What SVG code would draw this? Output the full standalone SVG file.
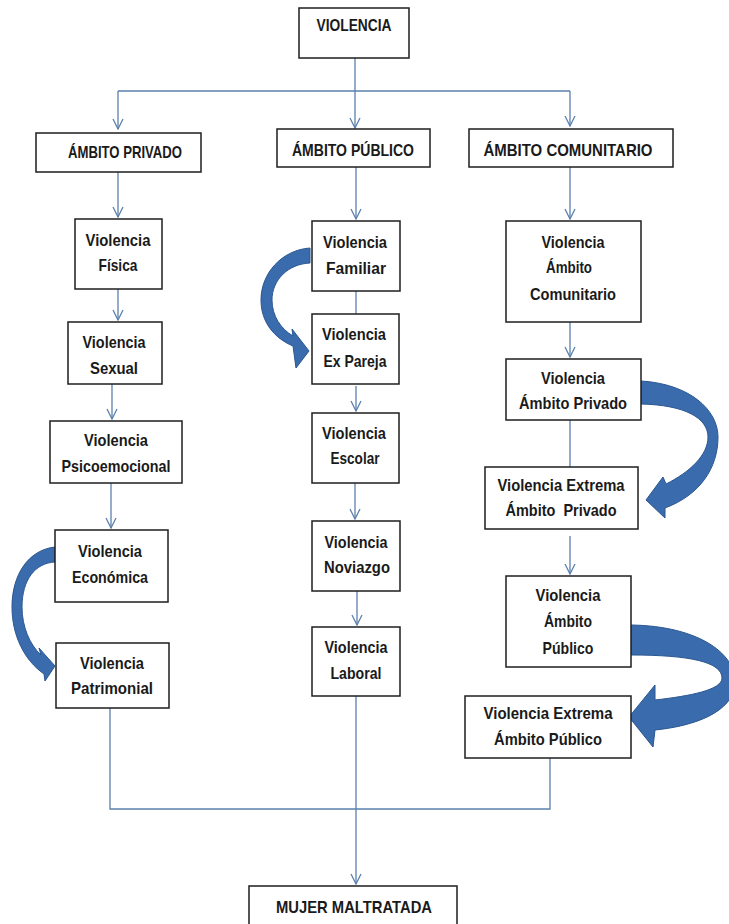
<svg xmlns="http://www.w3.org/2000/svg" width="729" height="924" viewBox="0 0 729 924">
<defs>
<style>
.box{fill:#ffffff;stroke:#1e1e1e;stroke-width:1.5}
.t{font-family:"Liberation Sans",Arial,sans-serif;font-weight:bold;font-size:17px;fill:#1a1a1a;text-anchor:middle}
.c{fill:none;stroke:#5b80ad;stroke-width:1.3}
.ca{fill:#3a6cad;stroke:#2b5690;stroke-width:1}
</style>
<marker id="arr" viewBox="0 0 12 12" refX="11" refY="6" markerWidth="12" markerHeight="12" markerUnits="userSpaceOnUse" orient="auto">
<path d="M1,1 L11,6 L1,11" fill="none" stroke="#5b80ad" stroke-width="1.3"/>
</marker>
</defs>
<rect width="729" height="924" fill="#ffffff"/>

<g id="connectors">
<path class="c" d="M355,58 V128" marker-end="url(#arr)"/>
<path class="c" d="M118,91 H570"/>
<path class="c" d="M118,91 V129" marker-end="url(#arr)"/>
<path class="c" d="M570,91 V126" marker-end="url(#arr)"/>
<path class="c" d="M118,172 V217" marker-end="url(#arr)"/>
<path class="c" d="M118,289 V320" marker-end="url(#arr)"/>
<path class="c" d="M112,384 V419" marker-end="url(#arr)"/>
<path class="c" d="M111,483 V528" marker-end="url(#arr)"/>
<path class="c" d="M110,708 V809 H550 V758"/>
<path class="c" d="M356,167 V219" marker-end="url(#arr)"/>
<path class="c" d="M356,291 V314"/>
<path class="c" d="M356,386 V411" marker-end="url(#arr)"/>
<path class="c" d="M355,483 V519" marker-end="url(#arr)"/>
<path class="c" d="M357,591 V625" marker-end="url(#arr)"/>
<path class="c" d="M356,696 V884" marker-end="url(#arr)"/>
<path class="c" d="M570,167 V219" marker-end="url(#arr)"/>
<path class="c" d="M570,322 V357" marker-end="url(#arr)"/>
<path class="c" d="M570,420 V467"/>
<path class="c" d="M570,536 V574" marker-end="url(#arr)"/>
</g>

<g id="curved-arrows">
<path class="ca" d="M310,248 C282,250 261,273 261,300 C261,322 274,338 293,346 L296,368 L309,351 L292,329 L293,336 C281,329 272,316 272,300 C272,280 288,264 310,263 Z"/>
<path class="ca" d="M641,381 C690,384 718,410 718,437 C718,468 700,495 665,508 L665,518 L646,500 L663,477 L666,484 C690,472 708,455 708,437 C708,418 685,405 641,404 Z"/>
<path class="ca" d="M55,547 C28,550 12,575 12,607 C12,635 24,660 44,674 L45,681 L55,666 L39,648 L41,655 C30,645 22,627 22,607 C22,580 35,563 55,562 Z"/>
<path class="ca" d="M631,625 C700,626 738,655 735,685 C732,712 695,726 655,730 L653,747 L629,717 L655,685 L655,700 C690,696 722,690 722,678 C722,662 690,655 631,655 Z"/>
</g>

<g id="n-violencia"><rect class="box" x="299" y="8" width="110" height="50"/><text class="t" x="354" y="31" textLength="75" lengthAdjust="spacingAndGlyphs">VIOLENCIA</text></g>
<g id="n-privado"><rect class="box" x="36" y="133" width="165" height="39"/><text class="t" x="125" y="158" textLength="114" lengthAdjust="spacingAndGlyphs">ÁMBITO PRIVADO</text></g>
<g id="n-publico"><rect class="box" x="277" y="129" width="153" height="38"/><text class="t" x="353" y="156" textLength="122" lengthAdjust="spacingAndGlyphs">ÁMBITO PÚBLICO</text></g>
<g id="n-comunitario"><rect class="box" x="469" y="129" width="204" height="38"/><text class="t" x="568" y="156" textLength="169" lengthAdjust="spacingAndGlyphs">ÁMBITO COMUNITARIO</text></g>

<g id="n-fisica"><rect class="box" x="75" y="219" width="87" height="70"/><text class="t" x="118" y="246" textLength="65" lengthAdjust="spacingAndGlyphs">Violencia</text><text class="t" x="118" y="271" textLength="39" lengthAdjust="spacingAndGlyphs">Física</text></g>
<g id="n-sexual"><rect class="box" x="68" y="322" width="94" height="62"/><text class="t" x="114" y="348" textLength="63" lengthAdjust="spacingAndGlyphs">Violencia</text><text class="t" x="114" y="374" textLength="48" lengthAdjust="spacingAndGlyphs">Sexual</text></g>
<g id="n-psico"><rect class="box" x="50" y="421" width="132" height="62"/><text class="t" x="116" y="446" textLength="64" lengthAdjust="spacingAndGlyphs">Violencia</text><text class="t" x="116" y="472" textLength="109" lengthAdjust="spacingAndGlyphs">Psicoemocional</text></g>
<g id="n-economica"><rect class="box" x="55" y="530" width="113" height="72"/><text class="t" x="110" y="557" textLength="64" lengthAdjust="spacingAndGlyphs">Violencia</text><text class="t" x="110" y="583" textLength="76" lengthAdjust="spacingAndGlyphs">Económica</text></g>
<g id="n-patrimonial"><rect class="box" x="56" y="643" width="113" height="65"/><text class="t" x="112" y="669" textLength="64" lengthAdjust="spacingAndGlyphs">Violencia</text><text class="t" x="112" y="694" textLength="82" lengthAdjust="spacingAndGlyphs">Patrimonial</text></g>

<g id="n-familiar"><rect class="box" x="312" y="221" width="88" height="70"/><text class="t" x="355" y="248" textLength="64" lengthAdjust="spacingAndGlyphs">Violencia</text><text class="t" x="356" y="274" textLength="60" lengthAdjust="spacingAndGlyphs">Familiar</text></g>
<g id="n-expareja"><rect class="box" x="312" y="314" width="87" height="70"/><text class="t" x="354" y="340" textLength="64" lengthAdjust="spacingAndGlyphs">Violencia</text><text class="t" x="355" y="367" textLength="63" lengthAdjust="spacingAndGlyphs">Ex Pareja</text></g>
<g id="n-escolar"><rect class="box" x="312" y="413" width="87" height="70"/><text class="t" x="354" y="439" textLength="64" lengthAdjust="spacingAndGlyphs">Violencia</text><text class="t" x="355" y="464" textLength="49" lengthAdjust="spacingAndGlyphs">Escolar</text></g>
<g id="n-noviazgo"><rect class="box" x="312" y="521" width="88" height="70"/><text class="t" x="356" y="548" textLength="63" lengthAdjust="spacingAndGlyphs">Violencia</text><text class="t" x="357" y="573" textLength="66" lengthAdjust="spacingAndGlyphs">Noviazgo</text></g>
<g id="n-laboral"><rect class="box" x="312" y="627" width="88" height="69"/><text class="t" x="356" y="653" textLength="63" lengthAdjust="spacingAndGlyphs">Violencia</text><text class="t" x="356" y="679" textLength="51" lengthAdjust="spacingAndGlyphs">Laboral</text></g>

<g id="n-vcomunitario"><rect class="box" x="506" y="221" width="135" height="101"/><text class="t" x="573" y="248" textLength="63" lengthAdjust="spacingAndGlyphs">Violencia</text><text class="t" x="569" y="273" textLength="46" lengthAdjust="spacingAndGlyphs">Ámbito</text><text class="t" x="573" y="300" textLength="86" lengthAdjust="spacingAndGlyphs">Comunitario</text></g>
<g id="n-vprivado"><rect class="box" x="506" y="359" width="135" height="61"/><text class="t" x="573" y="384" textLength="64" lengthAdjust="spacingAndGlyphs">Violencia</text><text class="t" x="573" y="409" textLength="108" lengthAdjust="spacingAndGlyphs">Ámbito Privado</text></g>
<g id="n-extprivado"><rect class="box" x="485" y="467" width="153" height="62"/><text class="t" x="561" y="491" textLength="127" lengthAdjust="spacingAndGlyphs">Violencia Extrema</text><text class="t" x="561" y="516" textLength="111" lengthAdjust="spacingAndGlyphs">Ámbito&#160; Privado</text></g>
<g id="n-vpublico"><rect class="box" x="506" y="576" width="125" height="91"/><text class="t" x="568" y="601" textLength="65" lengthAdjust="spacingAndGlyphs">Violencia</text><text class="t" x="568" y="627" textLength="48" lengthAdjust="spacingAndGlyphs">Ámbito</text><text class="t" x="568" y="654" textLength="51" lengthAdjust="spacingAndGlyphs">Público</text></g>
<g id="n-extpublico"><rect class="box" x="465" y="696" width="166" height="62"/><text class="t" x="548" y="719" textLength="129" lengthAdjust="spacingAndGlyphs">Violencia Extrema</text><text class="t" x="548" y="745" textLength="108" lengthAdjust="spacingAndGlyphs">Ámbito Público</text></g>

<g id="n-mujer"><rect class="box" x="249" y="886" width="208" height="44"/><text class="t" x="354" y="913" textLength="156" lengthAdjust="spacingAndGlyphs">MUJER MALTRATADA</text></g>
</svg>
